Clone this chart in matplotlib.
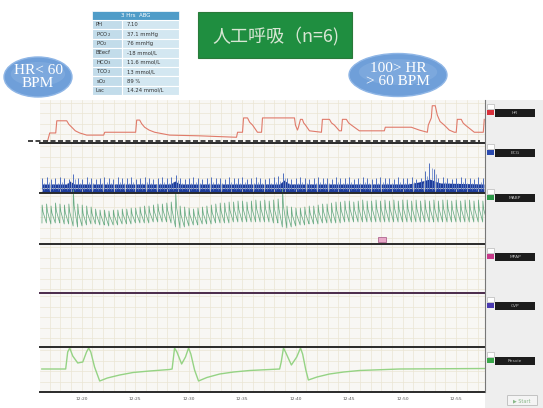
import matplotlib
matplotlib.use('Agg')
import matplotlib.pyplot as plt
import numpy as np
from matplotlib.patches import Ellipse, Rectangle, FancyBboxPatch

# ---------------- data ----------------
tick_minutes = [20, 25, 30, 35, 40, 45, 50, 55]
tick_labels = ['12:20', '12:25', '12:30', '12:35', '12:40', '12:45', '12:50', '12:55']

abg_names = ['PH', 'PCO$_2$', 'PO$_2$', 'BEecf', 'HCO$_3$', 'TCO$_2$', 'sO$_2$', 'Lac']
abg_values = ['7.10', '37.1 mmHg', '76 mmHg', '-18 mmol/L', '11.6 mmol/L', '13 mmol/L', '89 %', '14.24 mmol/L']

channel_names = ['HR', 'ECG', 'MABP', 'MPAP', 'CVP', 'Resvie']

# heart rate trace (minutes after 12:00, bpm)
hr_t = [16.83, 17.01, 17.57, 17.67, 18.60, 18.80, 19.07, 19.40, 19.81, 20.47, 22.05, 22.15, 24.11, 25.04, 25.14,
        25.42, 25.60, 25.88, 26.30, 26.82, 28.22, 31.02, 34.47, 34.57, 35.03, 35.13, 35.50, 35.70, 35.97, 36.43, 36.81,
        36.90, 39.89, 39.98, 40.17, 40.26, 40.45, 40.63, 40.75, 40.92, 41.29, 42.41, 42.50, 43.16, 43.35, 43.62,
        44.09, 44.28, 44.37, 44.74, 44.95, 45.21, 45.95, 48.29, 48.38, 50.81, 51.56, 52.31, 52.40, 52.68,
        52.77, 53.05, 53.24, 53.50, 53.89, 54.36, 54.83, 55.01, 55.11, 55.48, 55.65, 55.86, 56.70, 57.54, 57.63]
hr_v = [44, 54, 54, 71, 71, 66, 62, 57, 54, 51, 51, 55, 55, 55, 72, 72, 67, 62, 58, 55, 51, 50, 48, 55, 55, 75, 75,
        69, 65, 55, 55, 75, 75, 65, 58, 62, 73, 73, 68, 65, 57, 55, 73, 73, 68, 65, 57, 57, 73, 73, 68, 65, 57, 57,
        62, 62, 58, 55, 65, 75, 92, 92, 79, 70, 65, 58, 55, 55, 73, 73, 68, 65, 55, 55, 73]

# ECG R-spike heights (screen units) for the displayed beats
ecg_spikes = ([15, 16, 14, 15, 16, 15, 14] + [19] +
              [15, 14, 16, 15, 14, 15, 16, 15, 14, 16, 15, 15, 16, 14, 15, 16, 15, 14, 15, 16, 15, 16] + [18] +
              [15, 14, 15, 16, 15, 14, 15, 16, 15, 15, 14, 16, 15, 15, 16, 14, 15, 16, 15, 14, 15, 16, 17] + [20] +
              [15, 14, 15, 16, 15, 14, 15, 16, 15, 15, 14, 16, 15, 15, 16, 14, 15, 16, 15, 14, 15, 16, 15, 15,
               14, 16, 15, 15, 16, 14, 15] + [22, 30, 24] +
              [15, 16, 15, 14, 15, 16, 15, 15, 14, 16, 15])
ecg_band_t = [16.3, 18.6, 18.9, 19.3, 28.3, 28.7, 29.2, 38.5, 38.9, 39.4, 50.5, 51.5, 52.5, 53.0, 53.5, 57.6]
ecg_band_v = [9, 9, 12, 9, 9, 12, 9, 9, 13, 9, 9, 11, 14, 12, 10, 9]

# arterial pressure beats (screen units): systolic peaks and diastolic troughs
abp_sys = ([39, 40, 38, 41, 40, 39, 40] + [54] +
           [40, 39, 38, 37, 35, 34, 34, 33, 34, 34, 35, 35, 36, 36, 37, 38, 38, 39, 40, 40, 41, 42] + [52] +
           [38, 37, 36, 35, 36, 37, 38, 39, 40, 41, 41, 42, 42, 43, 43, 42, 43, 44, 43, 44, 43, 44, 45] + [55] +
           [38, 37, 36, 36, 37, 38, 38, 39, 40, 40, 41, 42, 42, 43, 43, 42, 43, 44, 43, 43, 44, 43, 44, 43,
            44, 43, 44, 44, 43, 44, 43, 44, 43, 44, 43, 44, 44, 43, 44, 43, 44, 44, 43, 44, 43])
abp_dia = ([21, 21, 20, 21, 21, 20, 20] + [18] +
           [17, 18, 19, 20, 20, 19, 19, 18, 19, 19, 20, 20, 20, 21, 21, 21, 21, 22, 22, 22, 22, 21] + [17] +
           [16, 17, 18, 19, 19, 20, 20, 20, 21, 21, 21, 21, 22, 22, 22, 22, 22, 22, 22, 22, 22, 21, 21] + [17] +
           [16, 17, 18, 19, 19, 20, 20, 20, 21, 21, 21, 21, 21, 22, 22, 22, 22, 22, 22, 22, 22, 22, 22, 22,
            22, 22, 22, 22, 22, 22, 22, 22, 22, 22, 22, 22, 22, 22, 22, 22, 22, 22, 22, 22, 22])

# respiration trace (minutes after 12:00, screen units)
resp_t = [16.27, 18.50, 18.69, 18.88, 19.16, 19.63, 20.10, 20.45, 20.65, 20.85, 21.20, 21.68, 22.40, 23.55,
          24.80, 26.35, 28.20, 28.45, 28.68, 28.90, 29.34, 29.70, 29.99, 30.20, 30.55, 30.92, 31.70, 32.90,
          34.20, 35.70, 38.50, 38.65, 38.86, 39.05, 39.60, 40.10, 40.45, 40.65, 40.95, 41.19, 42.00, 43.16,
          44.50, 45.96, 49.70, 57.70]
resp_v = [23, 23, 40, 44, 36, 29, 30, 40, 44, 40, 25, 11, 14, 17, 19.5, 21, 22.5, 23, 44, 40, 28, 35, 44, 38,
          22, 11, 14.5, 18, 20, 21.5, 23, 30, 44, 40, 27, 35, 44, 38, 22, 12, 15, 18, 20, 21.5, 23, 23.5]

# ---------------- figure ----------------
W, H = 543, 408
fig = plt.figure(figsize=(W / 100, H / 100), dpi=100)
fig.patch.set_facecolor('white')

def px_axes(x0, y0, x1, y1, z=1):
    return fig.add_axes([x0 / W, 1 - y1 / H, (x1 - x0) / W, (y1 - y0) / H], zorder=z)

XL, XR = 40, 485
TMIN, TMAX = 16.1, 57.7
grid_col = '#ebe5d3'
bg_col = '#f8f7f4'

panels = [(100, 143), (143, 193), (193, 244), (244, 293), (293, 347), (347, 392)]
axes = []
for (y0, y1) in panels:
    ax = px_axes(XL, y0, XR, y1)
    ax.set_facecolor(bg_col)
    ax.set_xlim(TMIN, TMAX)
    hpx = y1 - y0
    ax.set_ylim(0, hpx)
    ax.set_xticks(np.arange(17, 58, 1))
    ax.set_yticks(np.arange(hpx - 3, 0, -10.5))
    ax.grid(True, color=grid_col, lw=0.5)
    ax.tick_params(length=0, labelbottom=False, labelleft=False)
    for s in ax.spines.values():
        s.set_visible(False)
    axes.append(ax)

# HR panel: map bpm to panel (40 bpm at bottom, 100 at top)
ax_hr = axes[0]
ax_hr.set_ylim(40, 100)
ax_hr.set_yticks(np.arange(95.8, 40, -14.6))
ax_hr.plot(hr_t, hr_v, color='#e07a6a', lw=0.8)

# ECG panel
ax_ecg = axes[1]
n = len(ecg_spikes)
beat_t = np.linspace(16.3, 57.5, n)
ax_ecg.vlines(beat_t, 4, ecg_spikes, color='#5070c0', lw=0.7)
ax_ecg.vlines(beat_t + 0.2, 3, np.array(ecg_spikes) - 5, color='#6080c8', lw=0.5)
ax_ecg.fill_between(ecg_band_t, 1.0, ecg_band_v, color='#1e3c9a', lw=0)
ax_ecg.plot(beat_t, np.full(n, 1.0), color='#1e3c9a', lw=1.0)

# MABP panel
ax_abp = axes[2]
nb = len(abp_sys)
bt = np.linspace(16.3, 57.5, nb)
dt = bt[1] - bt[0]
xs, ys = [], []
for i in range(nb):
    d_next = abp_dia[i + 1] if i + 1 < nb else abp_dia[i]
    xs += [bt[i] - 0.04 * dt, bt[i], bt[i] + 0.2 * dt, bt[i] + 0.96 * dt]
    ys += [abp_dia[i], abp_sys[i], (abp_sys[i] + abp_dia[i]) / 2 + 2, d_next]
ax_abp.plot(xs, ys, color='#6aab84', lw=0.55, clip_on=False)
ax_abp.set_xlim(TMIN, TMAX)

# Resp panel
ax_r = axes[5]
ax_r.plot(resp_t, resp_v, color='#95d384', lw=1.0)

# ---------------- overlay ----------------
ov = fig.add_axes([0, 0, 1, 1], zorder=10)
ov.set_xlim(0, W)
ov.set_ylim(H, 0)
ov.axis('off')

# panel separators
for y in [143, 193, 244, 347, 392]:
    ov.plot([XL, XR], [y, y], color='#2a2a2a', lw=1.4)
ov.plot([XL, XR], [293, 293], color='#4a2a4a', lw=1.4)
ov.plot([28, XR - 5], [141, 141], color='#222222', lw=1.2, ls=(0, (3, 1.5)))

# right column
ov.add_patch(Rectangle((XR, 100), W - XR, 308, facecolor='#eeeeee', edgecolor='none'))
ov.plot([XR, XR], [100, 392], color='#777777', lw=0.8)
sw_cols = ['#d8303a', '#2a4ab0', '#2e9a4a', '#c83a8a', '#4a3ab0', '#3aa84a']
lab_y = [113, 153, 198, 257, 306, 361]
for name, c, y in zip(channel_names, sw_cols, lab_y):
    ov.add_patch(Rectangle((487, y - 3), 7, 5, facecolor=c, edgecolor='none'))
    ov.add_patch(Rectangle((487, y - 9), 7, 5, facecolor='white', edgecolor='#aaaaaa', lw=0.4))
    ov.add_patch(Rectangle((495, y - 4), 40, 8, facecolor='#1c1c1c', edgecolor='none'))
    ov.text(515, y, name, color='#bbbbbb', fontsize=3.2, ha='center', va='center')
ov.add_patch(FancyBboxPatch((508, 396), 29, 9, boxstyle='round,pad=0.5', facecolor='#f4f4f4',
                            edgecolor='#bbbbbb', lw=0.6))
ov.text(522, 400.5, '▶ Start', color='#88b888', fontsize=3.5, ha='center', va='center')

# time labels
for m, lab in zip(tick_minutes, tick_labels):
    xp = XL + (m - TMIN) / (TMAX - TMIN) * (XR - XL)
    ov.text(xp, 399, lab, fontsize=3.2, color='#555555', ha='center', va='center')

# marker in MABP panel
ov.add_patch(Rectangle((378, 237), 8, 5, facecolor='#e8a8c8', edgecolor='#a05080', lw=0.5))

# ABG table
tx0, tx1, tsplit = 92, 179, 122
ty0, thead = 11, 9
rowh = 9.4
ov.add_patch(Rectangle((tx0, ty0), tx1 - tx0, thead, facecolor='#4f9cc8', edgecolor='white', lw=0.5))
ov.text((tx0 + tx1) / 2, ty0 + thead / 2, '3 Hrs  ABG', color='white', fontsize=4, ha='center', va='center')
for i, (nm, vl) in enumerate(zip(abg_names, abg_values)):
    y = ty0 + thead + i * rowh
    ov.add_patch(Rectangle((tx0, y), tsplit - tx0, rowh, facecolor='#c2dcea', edgecolor='white', lw=0.8))
    ov.add_patch(Rectangle((tsplit, y), tx1 - tsplit, rowh, facecolor='#d3e7f1', edgecolor='white', lw=0.8))
    ov.text(tx0 + 4, y + rowh / 2, nm, fontsize=3.8, color='#333333', va='center')
    ov.text(tsplit + 5, y + rowh / 2, vl, fontsize=3.8, color='#333333', va='center')

# green title box
ov.add_patch(Rectangle((198, 12), 154, 46, facecolor='#1f8e40', edgecolor='#2a7a3a', lw=0.8))
ov.text(276, 36, '人工呼吸（n=6)', fontsize=13, color='#d8e6d4', ha='center', va='center',
        family=['Noto Sans CJK JP', 'DejaVu Sans'])

# blue bubbles
for (cx, cy, w, h, txt) in [(38, 77, 68, 40, 'HR< 60\nBPM'), (398, 75, 98, 43, '100> HR\n> 60 BPM')]:
    ov.add_patch(Ellipse((cx, cy), w, h, facecolor='#6f9fd9', edgecolor='#8fb6e6', lw=1))
    ov.add_patch(Ellipse((cx, cy - 3), w * 0.8, h * 0.6, facecolor='#85afe0', edgecolor='none', alpha=0.6))
    ov.text(cx, cy, txt, fontsize=11, color='white', ha='center', va='center',
            family='Liberation Serif', linespacing=1.0)

fig.savefig('out.png', dpi=100)
